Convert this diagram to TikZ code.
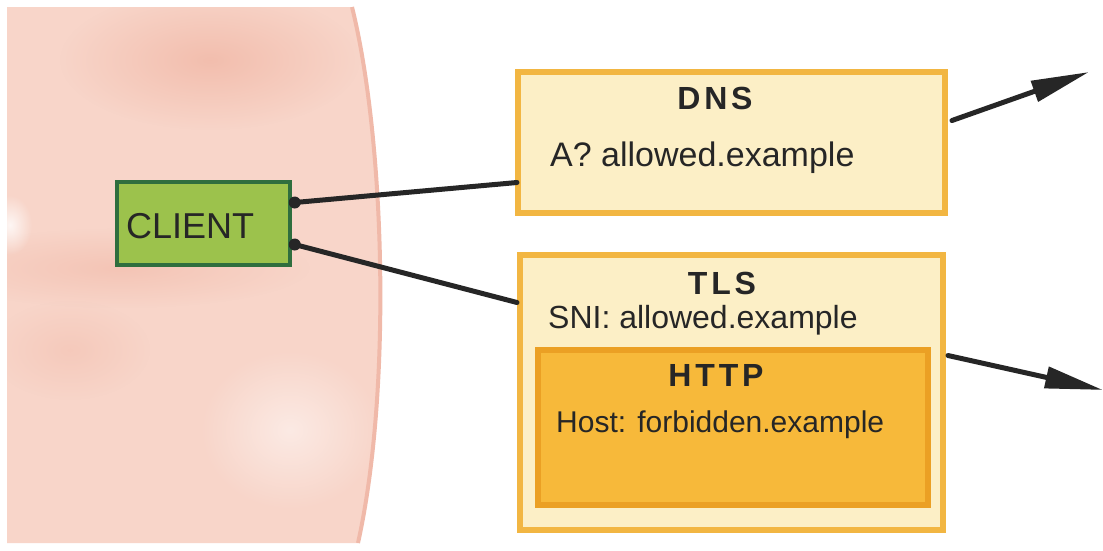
\documentclass[tikz,border=0pt]{standalone}
\usepackage{fontspec}
\setmainfont{Liberation Sans}
\usetikzlibrary{arrows.meta,calc,fadings}
\tikzfading[name=softblot, inner color=transparent!0, outer color=transparent!100]
\definecolor{pinkbg}{HTML}{F8D5C9}
\definecolor{pinkdark}{HTML}{F0B4A2}
\definecolor{pinkedge}{HTML}{F0B9A9}
\definecolor{greenfill}{HTML}{9CC24C}
\definecolor{greenedge}{HTML}{2F6E3E}
\definecolor{paleyellow}{HTML}{FCEFC6}
\definecolor{orangeedge}{HTML}{F2B642}
\definecolor{httpfill}{HTML}{F7B93A}
\definecolor{httpedge}{HTML}{EBA024}
\definecolor{ink}{HTML}{262626}
\tikzset{
  clientbox/.style={draw=greenedge, fill=greenfill, line width=3.5pt, minimum width=173pt, minimum height=83pt, inner sep=0pt},
  msgbox/.style={draw=orangeedge, fill=paleyellow, line width=6pt, inner sep=0pt},
  httpbox/.style={draw=httpedge, fill=httpfill, line width=6pt, inner sep=0pt},
  lbl/.style={text=ink, inner sep=0pt, anchor=west},
  title/.style={text=ink, inner sep=0pt, font=\bfseries\fontsize{32}{36}\selectfont\addfontfeature{LetterSpace=12}},
  conn/.style={draw=ink, line width=5pt, line cap=round},
  arr/.style={draw=ink, line width=5pt, line cap=round, -{Triangle[length=58pt,width=21pt]}},
  dot/.style={circle, fill=ink, inner sep=0pt, minimum size=12pt},
  blot/.style={path fading=softblot}
}
\begin{document}
\begin{tikzpicture}[x=1pt,y=-1pt]
\useasboundingbox (0,0) rectangle (1103,550);
\fill[white] (0,0) rectangle (1103,550);
% pink area
\begin{scope}
\clip (7,7) -- (352,7) .. controls (385,140) and (392,390) .. (358,543) -- (7,543) -- cycle;
\fill[pinkbg] (0,0) rectangle (400,550);
\fill[pinkdark, blot, opacity=0.7] (210,60) ellipse (150pt and 70pt);
\fill[pinkdark, blot, opacity=0.5] (120,268) ellipse (190pt and 40pt);
\fill[pinkdark, blot, opacity=0.35] (70,350) ellipse (80pt and 50pt);
\fill[white, blot, opacity=0.5] (290,430) ellipse (90pt and 80pt);
\fill[white, blot, opacity=0.8] (10,225) ellipse (22pt and 30pt);
\end{scope}
\draw[pinkedge, line width=4pt] (352,7) .. controls (385,140) and (392,390) .. (358,543);
% client
\node[clientbox] (client) at (203.5,223.5) {};
\node[lbl, font=\fontsize{36}{40}\selectfont] (clientlbl) at (126,226) {CLIENT};
% DNS box
\node[msgbox, minimum width=427pt, minimum height=141pt] (dns) at (731.5,142.5) {};
\node[title] (dnst) at (715,98) {DNS};
\node[lbl, font=\fontsize{34}{38}\selectfont] (dnsq) at (550,158) {A? allowed.example};
% TLS box
\node[msgbox, minimum width=423pt, minimum height=275pt] (tls) at (731.5,392.5) {};
\node[title] (tlst) at (722,283) {TLS};
\node[lbl, font=\fontsize{32}{36}\selectfont] (sni) at (548,320) {SNI: allowed.example};
% HTTP box
\node[httpbox, minimum width=390pt, minimum height=155pt] (http) at (733,427.5) {};
\node[title] (httpt) at (716,375) {HTTP};
\node[lbl, font=\fontsize{30}{34}\selectfont] (host) at (556,425) {Host: forbidden.example};
% connectors
\coordinate (c1) at ($(client.east)+(3,-21)$);
\coordinate (c2) at ($(client.east)+(3,21)$);
\node[dot] (d1) at (c1) {};
\node[dot] (d2) at (c2) {};
\draw[conn] (d1.center) -- ($(dns.west)+(2,40)$);
\draw[conn] (d2.center) -- ($(tls.west)+(0,-90)$);
\coordinate (dnsout) at (1089,72);
\coordinate (tlsout) at (1103,390);
\draw[arr] ($(dns.east)+(4,-22)$) -- (dnsout);
\draw[arr] ($(tls.east)+(2,-37)$) -- (tlsout);
\end{tikzpicture}
\end{document}
